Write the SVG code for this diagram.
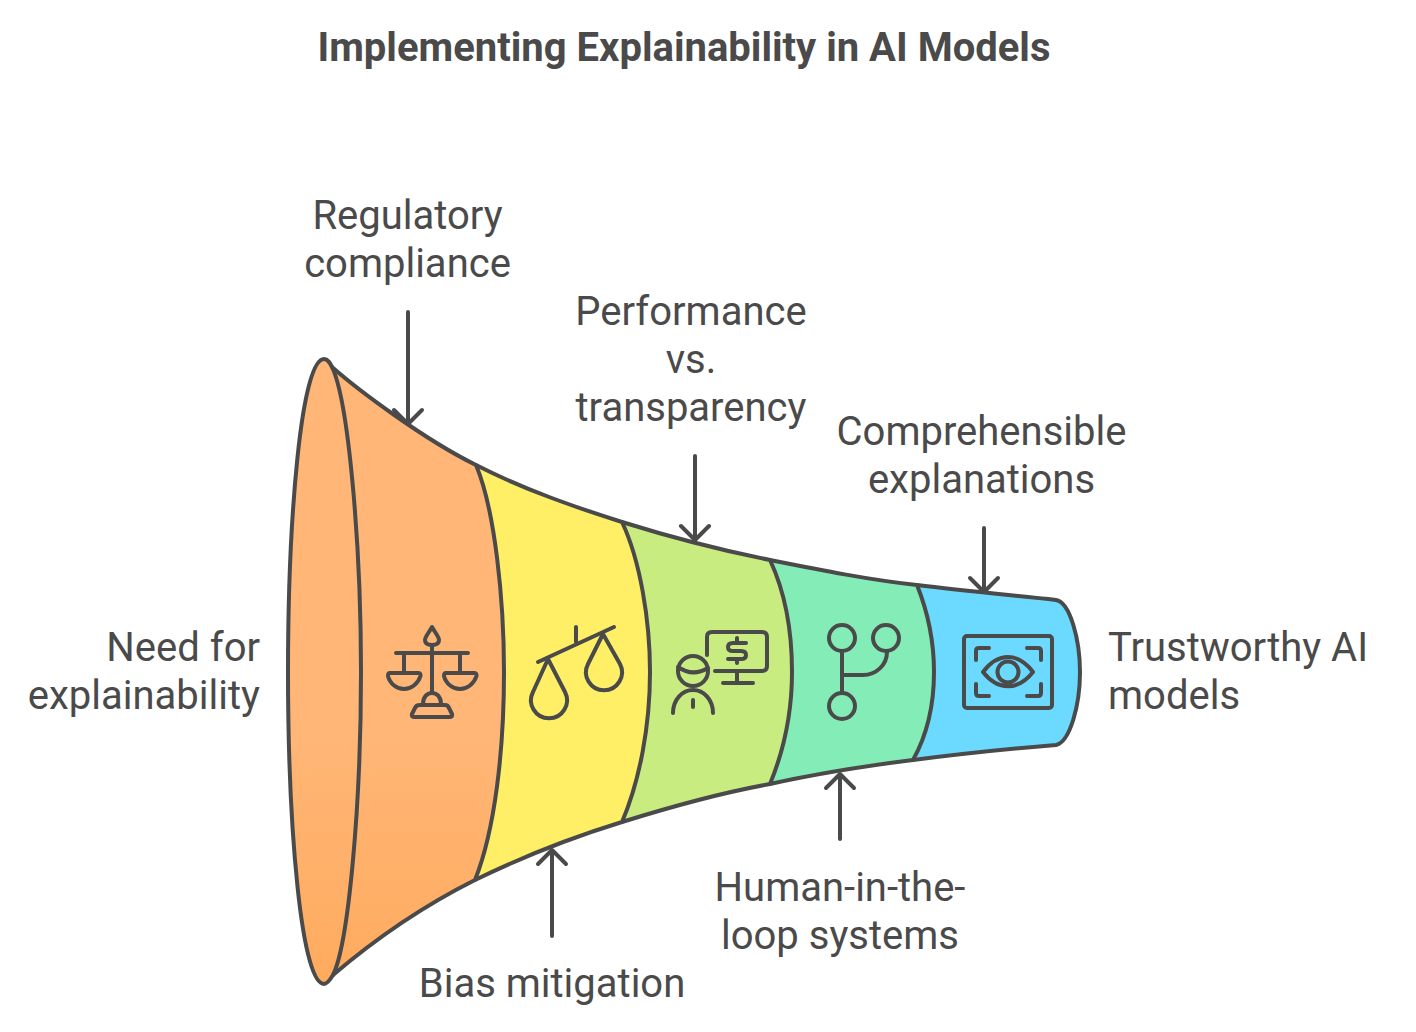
<svg xmlns="http://www.w3.org/2000/svg" width="1416" height="1032" viewBox="0 0 1416 1032">
<defs>
<linearGradient id="org" x1="0" y1="0" x2="0" y2="1"><stop offset="0.6" stop-color="#FFB677"/><stop offset="1" stop-color="#FFAB5E"/></linearGradient>
</defs>
<style>
.s{stroke:#4A4A4A;stroke-width:4;fill:none;stroke-linecap:round;stroke-linejoin:round}
.f{stroke:#4A4A4A;stroke-width:4;stroke-linejoin:round}
.t{font-family:Roboto,"Liberation Sans",sans-serif;font-size:40px;fill:#4A4A4A}
.c{text-anchor:middle}
.r{text-anchor:end}
.h{font-family:Roboto,"Liberation Sans",sans-serif;font-size:40px;font-weight:700;fill:#4A4A4A;text-anchor:middle}
</style>
<rect width="1416" height="1032" fill="#FFFFFF"/>
<text class="h" x="684" y="61">Implementing Explainability in AI Models</text>
<g id="stage-trust"><path class="f" fill="#6CD9FF" d="M917 585C965 591 1010 595 1056 600C1070 602 1080 640 1080 672C1080 705 1070 742 1056 745C1005 749 960 754 913 760Z"/></g>
<g id="stage-human"><path class="f" fill="#84ECB6" d="M770 560C820 570 870 580 917 585C927 610 934 640 934 672C934 705 927 735 913 760C865 766 815 774 770 784Z"/></g>
<g id="stage-perf"><path class="f" fill="#C9EC80" d="M622 522C670 537 720 550 770 560C784 590 792 630 792 672C792 710 784 750 770 784C720 793 670 807 622 822Z"/></g>
<g id="stage-bias"><path class="f" fill="#FFEF66" d="M476 465C525 490 575 507 622 522C640 560 650 620 650 672C650 725 640 780 622 822C570 838 520 858 475 880Z"/></g>
<g id="stage-need"><path class="f" fill="url(#org)" d="M332 367C358 390 425 440 476 465C495 510 504 600 504 672C504 750 495 830 475 880C425 905 380 935 333 975C330 980 327 984 324 984C301 984 288 825 288 672C288 520 301 359 324 359C328 359 330 363 332 367Z"/><path class="s" d="M332 367C348 400 361 540 361 672C361 810 348 945 333 975"/></g>
<g id="connectors">
<path class="s" d="M408 312V424M394 410L408 424L422 410"/>
<path class="s" d="M695 456V540M681 526L695 540L709 526"/>
<path class="s" d="M984 528V592M970 578L984 592L998 578"/>
<path class="s" d="M552 936V850M538 864L552 850L566 864"/>
<path class="s" d="M840 839V774M826 788L840 774L854 788"/>
</g>
<g id="icon-scales1" class="s">
<path d="M396 653H468M432 646V692M404 653V672M460 653V672"/>
<path d="M432 627C428 634 425 637 425 640C425 644 428 645 432 645C436 645 439 644 439 640C439 637 436 634 432 627Z"/>
<path d="M390 673H418Q421 673 420.500 676C418 684 411 689 404 689C397 689 390 684 388 676Q388 673 390 673Z"/>
<path d="M446 673H474Q477 673 476.500 676C474 684 467 689 460 689C453 689 446 684 444 676Q444 673 446 673Z"/>
<path d="M423 704C423 697 427 693 432 693C437 693 441 697 441 704"/>
<path d="M420 705H445Q448 705 449 708L452 714Q453 717 450 717H414Q411 717 412 714L415 708Q416 705 420 705Z"/>
</g>
<g id="icon-scales2" class="s">
<path d="M538 662L614 627M576 627V642"/>
<path d="M548 659L565 692A18 18 0 1 1 533 692Z"/>
<path d="M603 634L620 664A18 18 0 1 1 588 664Z"/>
</g>
<g id="icon-person" class="s">
<circle cx="693" cy="671" r="15"/><path d="M678 667C688 674 698 674 708 668"/>
<path d="M673 713C673 700 682 690 693 690C704 690 713 700 713 713M693 700V707"/>
<path d="M707 655V637Q707 632 712 632H762Q767 632 767 637V666Q767 671 762 671H715M737 671V683M723 683H753"/>
<path d="M746 643H733Q728 643 728 647Q728 651 733 651H741Q746 651 746 655Q746 659 741 659H728M737 638V643M737 659V663"/>
</g>
<g id="icon-branch" class="s">
<circle cx="842" cy="638" r="13"/><circle cx="886" cy="638" r="13"/><circle cx="842" cy="706" r="13"/>
<path d="M842 652V692M842 675H863C876 675 887 665 887 652"/>
</g>
<g id="icon-eye" class="s">
<rect x="964" y="636" width="88" height="72" rx="3"/>
<path d="M989 648H979Q976 648 976 651V660M1027 648H1038Q1041 648 1041 651V660M989 696H979Q976 696 976 693V684M1027 696H1038Q1041 696 1041 693V684"/>
<path d="M983 672C998 652 1018 652 1033 672C1018 691 998 691 983 672Z"/><circle cx="1008" cy="672" r="10.500"/>
</g>
<text class="t c" x="407.500" y="229">Regulatory</text>
<text class="t c" x="407.500" y="277">compliance</text>
<text class="t c" x="691" y="325">Performance</text>
<text class="t c" x="691" y="373">vs.</text>
<text class="t c" x="691" y="421">transparency</text>
<text class="t c" x="981.500" y="445">Comprehensible</text>
<text class="t c" x="981.500" y="493">explanations</text>
<text class="t r" x="260" y="661">Need for</text>
<text class="t r" x="260" y="709">explainability</text>
<text class="t" x="1108" y="661">Trustworthy AI</text>
<text class="t" x="1108" y="709">models</text>
<text class="t c" x="552" y="997">Bias mitigation</text>
<text class="t c" x="840" y="901">Human-in-the-</text>
<text class="t c" x="840" y="949">loop systems</text>
</svg>
